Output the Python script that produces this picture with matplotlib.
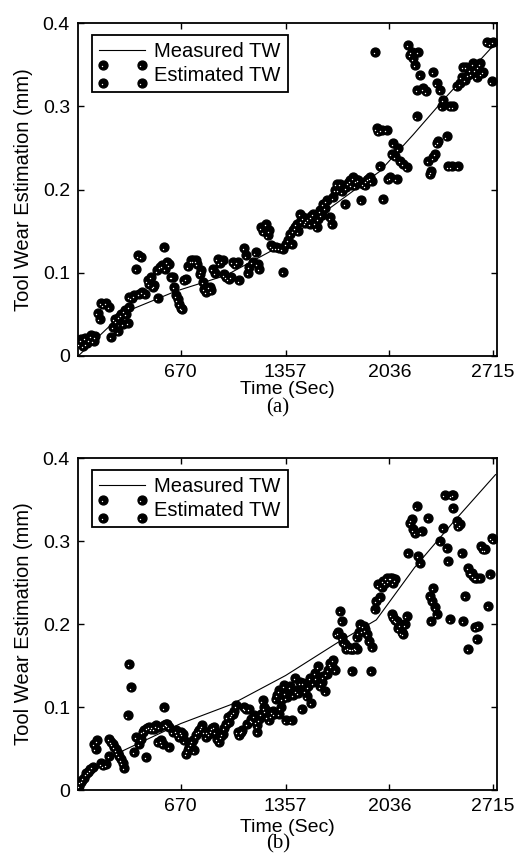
import numpy as np
import matplotlib
matplotlib.use("Agg")
import matplotlib.pyplot as plt
from matplotlib.lines import Line2D
from matplotlib.legend_handler import HandlerBase
from matplotlib.transforms import offset_copy

# ---- data ----
tick_pos = [670, 1357, 2036, 2715]
tick_lbl = ["670", "1357", "2036", "2715"]
ytick_pos = [0, 0.1, 0.2, 0.3, 0.4]
ytick_lbl = ["0", "0.1", "0.2", "0.3", "0.4"]

# (a) measured tool wear
meas_a_t = [0, 200, 335, 640, 967, 1300, 1537, 1973, 2191, 2409, 2730]
meas_a_w = [0, 0.035, 0.055, 0.078, 0.097, 0.13, 0.163, 0.222, 0.266, 0.312, 0.376]

# (a) estimated tool wear
est_a_t = [10, 20, 30, 45, 55, 70, 85, 100, 112,
           128, 140, 150, 165, 182, 202,
           215, 227, 238, 248, 260, 270, 282, 292, 303, 313, 325, 335,
           333, 350, 365, 380, 390, 398, 412, 420, 440,
           454, 465, 475, 490, 497, 518, 519, 534, 551, 561, 567, 584, 595,
           610, 617, 627, 640, 650, 660, 672, 682,
           690, 704, 720, 737, 752, 770, 780,
           796, 803, 815, 825, 837, 859, 870,
           879, 895, 912, 925, 945, 955, 967, 985, 1000, 1010, 1025, 1043, 1054,
           1086, 1097, 1110, 1119, 1141, 1160, 1174, 1185,
           1196, 1212, 1229, 1240, 1251, 1260, 1275, 1294, 1315, 1338, 1341,
           1360, 1375, 1385, 1400, 1406, 1420, 1428, 1440, 1450, 1460, 1472, 1485,
           1494, 1505, 1515, 1526, 1537, 1548, 1559, 1570, 1581, 1592, 1603, 1614,
           1625, 1646, 1657,
           1668, 1680, 1690, 1700, 1712, 1725, 1744, 1755, 1766, 1777, 1788, 1799,
           1810, 1821, 1832, 1853, 1864, 1875, 1886, 1897, 1908, 1920,
           1941, 1952, 1962, 1973, 1984, 1995, 2017, 2028, 2039, 2050, 2061, 2072,
           2083, 2094, 2105, 2126, 2148,
           2159, 2170, 2181, 2192, 2203, 2213, 2218, 2224, 2235, 2257, 2276,
           2290, 2301, 2311, 2322, 2333, 2344, 2355, 2322, 2344, 2366, 2377, 2388,
           2410, 2420, 2442, 2486, 2431, 2453, 2475, 2497,
           2508, 2518, 2530, 2540, 2551, 2562, 2573, 2584, 2595, 2606, 2617, 2628,
           2640, 2650, 2672, 2693, 2704, 2715]
est_a_w = [0.015, 0.02, 0.012, 0.022, 0.015, 0.02, 0.025, 0.018, 0.024,
           0.052, 0.045, 0.064, 0.062, 0.064, 0.059,
           0.023, 0.035, 0.045, 0.043, 0.03, 0.047, 0.05, 0.039, 0.055, 0.051, 0.04, 0.059,
           0.071, 0.07, 0.073, 0.105, 0.121, 0.075, 0.119, 0.077, 0.075,
           0.091, 0.087, 0.095, 0.083, 0.085, 0.103, 0.07, 0.107, 0.109, 0.131, 0.105, 0.113, 0.11,
           0.095, 0.095, 0.083, 0.073, 0.068, 0.063, 0.058, 0.057,
           0.091, 0.093, 0.108, 0.115, 0.115, 0.115, 0.111,
           0.099, 0.103, 0.089, 0.081, 0.077, 0.083, 0.079,
           0.105, 0.1, 0.117, 0.112, 0.115, 0.098, 0.095, 0.093, 0.095, 0.113, 0.11, 0.113, 0.091,
           0.13, 0.121, 0.1, 0.107, 0.113, 0.125, 0.111, 0.105,
           0.155, 0.15, 0.159, 0.145, 0.151, 0.133, 0.131, 0.131, 0.13, 0.129, 0.101,
           0.135, 0.14, 0.147, 0.135, 0.151, 0.155, 0.159, 0.15, 0.171, 0.163, 0.167, 0.16,
           0.163, 0.165, 0.159, 0.168, 0.171, 0.16, 0.155, 0.165, 0.175, 0.17, 0.183, 0.178,
           0.187, 0.167, 0.159,
           0.191, 0.2, 0.207, 0.2, 0.207, 0.198, 0.183, 0.203, 0.208, 0.211, 0.206, 0.215,
           0.205, 0.211, 0.212, 0.187, 0.207, 0.205, 0.211, 0.213, 0.215, 0.21,
           0.366, 0.274, 0.27, 0.229, 0.272, 0.189, 0.272, 0.213, 0.215, 0.243, 0.256, 0.24,
           0.213, 0.25, 0.235, 0.231, 0.227,
           0.374, 0.362, 0.366, 0.358, 0.35, 0.288, 0.32, 0.366, 0.338, 0.322, 0.318,
           0.235, 0.219, 0.222, 0.239, 0.243, 0.256, 0.258, 0.342, 0.328, 0.32, 0.3, 0.308,
           0.264, 0.228, 0.228, 0.228, 0.3, 0.3, 0.324, 0.328,
           0.336, 0.348, 0.332, 0.348, 0.338, 0.344, 0.34, 0.352, 0.344, 0.336, 0.348, 0.352,
           0.34, 0.342, 0.378, 0.376, 0.33, 0.378]

# (b) measured tool wear
meas_b_t = [0, 150, 300, 670, 1000, 1357, 1700, 1950, 2200, 2450, 2730]
meas_b_w = [0, 0.03, 0.048, 0.08, 0.103, 0.138, 0.178, 0.205, 0.268, 0.322, 0.38]

# (b) estimated tool wear
est_b_t = [5, 15, 25, 35, 50, 65, 80, 95,
           105, 126, 115, 148, 165, 181, 203,
           203, 215, 225, 236, 247, 258, 268, 280, 290, 301,
           334, 344, 323,
           366, 377, 399, 410, 421, 432, 443, 453, 464, 475, 486, 497, 508, 519, 530,
           541, 552, 563, 563, 574, 584, 595, 595,
           617, 639, 650, 661, 672, 683, 694, 704, 715, 726, 737, 748, 759, 770, 781,
           792, 803, 813, 824, 835, 846, 857, 868, 878, 889, 900, 911, 922, 933, 944,
           955, 966, 977, 988, 999, 1010, 1020, 1031, 1042, 1053, 1064, 1074, 1085,
           1096, 1107, 1118, 1129, 1140, 1151, 1162, 1172, 1172, 1185, 1195,
           1206, 1217, 1227, 1238, 1249, 1260, 1271, 1281, 1292, 1303, 1314, 1314,
           1325, 1336, 1347, 1357, 1357,
           1363, 1385, 1396, 1407, 1418, 1429, 1440, 1450, 1461, 1472, 1483, 1494,
           1505, 1515, 1526, 1537, 1548, 1559, 1570, 1581, 1592, 1603, 1614, 1625,
           1635, 1646, 1657, 1668, 1679,
           1690, 1701, 1712, 1723, 1723, 1734, 1745, 1755, 1766, 1777, 1788, 1788,
           1800, 1810, 1821, 1821, 1835, 1846, 1857, 1868, 1879, 1890, 1901, 1915, 1923,
           1940, 1951, 1962, 1973, 1984, 1995, 2006, 2017, 2028, 2039, 2050, 2061, 2072,
           2050, 2061, 2072, 2083, 2094, 2104, 2115, 2126, 2137, 2148,
           2159, 2170, 2181, 2192, 2203, 2213, 2224, 2235, 2246, 2289,
           2300, 2311, 2316, 2322, 2333, 2344,
           2366, 2388, 2398, 2410, 2420, 2431, 2442, 2453, 2453, 2475, 2486, 2497,
           2508, 2519, 2530, 2551, 2562, 2573, 2584, 2595, 2606, 2628, 2551, 2595,
           2606, 2617, 2638, 2649, 2660, 2682, 2693, 2704, 2715]
est_b_w = [0.005, 0.01, 0.012, 0.015, 0.02, 0.022, 0.025, 0.028,
           0.056, 0.06, 0.05, 0.032, 0.03, 0.031, 0.041,
           0.062, 0.058, 0.056, 0.052, 0.049, 0.045, 0.041, 0.037, 0.033, 0.027,
           0.152, 0.124, 0.09,
           0.046, 0.064, 0.056, 0.062, 0.07, 0.072, 0.04, 0.075, 0.076, 0.074, 0.076, 0.074, 0.078, 0.058, 0.076,
           0.06, 0.056, 0.1, 0.078, 0.08, 0.079, 0.052, 0.076,
           0.07, 0.072, 0.068, 0.064, 0.07, 0.068, 0.06, 0.044, 0.048, 0.052, 0.056, 0.06, 0.048, 0.066, 0.07,
           0.072, 0.075, 0.078, 0.07, 0.064, 0.07, 0.068, 0.072, 0.075, 0.076, 0.07, 0.062, 0.058, 0.065, 0.068,
           0.075, 0.08, 0.088, 0.082, 0.09, 0.092, 0.095, 0.102, 0.07, 0.066, 0.07, 0.072, 0.1,
           0.098, 0.08, 0.098, 0.085, 0.084, 0.09, 0.082, 0.078, 0.07, 0.085, 0.092,
           0.108, 0.1, 0.096, 0.088, 0.084, 0.09, 0.095, 0.092, 0.11, 0.115, 0.12, 0.092,
           0.1, 0.11, 0.126, 0.118, 0.084,
           0.112, 0.125, 0.084, 0.115, 0.135, 0.12, 0.117, 0.13, 0.098, 0.129, 0.12, 0.113,
           0.125, 0.135, 0.105, 0.13, 0.141, 0.135, 0.149, 0.125, 0.13, 0.137, 0.119, 0.14,
           0.145, 0.153, 0.15, 0.157, 0.145,
           0.188, 0.19, 0.216, 0.204, 0.184, 0.178, 0.176, 0.17, 0.172, 0.17, 0.17, 0.144,
           0.17, 0.172, 0.17, 0.184, 0.19, 0.2, 0.192, 0.198, 0.194, 0.188, 0.18, 0.144, 0.172,
           0.218, 0.228, 0.248, 0.232, 0.245, 0.252, 0.25, 0.256, 0.252, 0.256, 0.256, 0.25, 0.254,
           0.212, 0.208, 0.205, 0.204, 0.195, 0.2, 0.19, 0.188, 0.2, 0.21,
           0.286, 0.322, 0.326, 0.314, 0.31, 0.342, 0.282, 0.274, 0.312, 0.328,
           0.234, 0.204, 0.228, 0.244, 0.22, 0.212,
           0.3, 0.316, 0.356, 0.292, 0.276, 0.206, 0.355, 0.356, 0.34, 0.324, 0.318, 0.32,
           0.286, 0.204, 0.234, 0.268, 0.262, 0.262, 0.258, 0.256, 0.256, 0.256, 0.17, 0.196,
           0.182, 0.198, 0.294, 0.29, 0.29, 0.222, 0.26, 0.304, 0.302]


class FourDots(HandlerBase):
    # matlab style scatter legend entry: 2 x 2 dots
    def create_artists(self, legend, orig_handle, xdescent, ydescent,
                       width, height, fontsize, trans):
        cy = -ydescent + height / 2
        arts = []
        for fx in (0.09, 0.92):
            for dy in (6.5, -6.5):
                x = -xdescent + fx * width
                d = Line2D([x], [cy + dy], ls="none", marker="o", ms=6.4,
                           mfc="black", mec="black", transform=trans)
                h = Line2D([x - 0.9], [cy + dy - 1.0], ls="none", marker="o",
                           ms=1.0, mfc="white", mec="none", transform=trans)
                arts += [d, h]
        return arts


sans = "Liberation Sans"
fig = plt.figure(figsize=(5.18, 8.59), dpi=100)
ax_a = fig.add_axes([0.151, 0.5856, 0.808, 0.3873])
ax_b = fig.add_axes([0.151, 0.0803, 0.808, 0.3865])

panels = [
    (ax_a, meas_a_t, meas_a_w, est_a_t, est_a_w, -0.101, "(a)", 0.525),
    (ax_b, meas_b_t, meas_b_w, est_b_t, est_b_w, -0.112, "(b)", 0.0175),
]

for ax, mt, mw, et, ew, xlab_y, tag, tag_y in panels:
    ax.plot(mt, mw, color="black", lw=0.8, zorder=2, label="Measured TW")
    ax.plot(et, ew, ls="none", marker="o", ms=6.4, mfc="black", mec="black",
            zorder=3)
    hl = offset_copy(ax.transData, fig=fig, x=-1.3, y=-1.5, units="dots")
    ax.plot(et, ew, ls="none", marker="o", ms=1.0, mfc="white", mec="none",
            transform=hl, zorder=4)

    ax.set_xlim(0, 2738)
    ax.set_ylim(0, 0.4)
    ax.set_xticks(tick_pos)
    ax.set_xticklabels(tick_lbl)
    ax.set_yticks(ytick_pos)
    ax.set_yticklabels(ytick_lbl)
    ax.tick_params(direction="in", top=True, right=True, length=4, width=1,
                   labelsize=14, pad=6)
    for lab in ax.get_xticklabels() + ax.get_yticklabels():
        lab.set_fontfamily(sans)
    for sp in ax.spines.values():
        sp.set_linewidth(1.3)

    ax.set_xlabel("Time (Sec)", fontsize=14, family=sans, va="center")
    ax.xaxis.set_label_coords(0.5, xlab_y)
    ax.set_ylabel("Tool Wear Estimation (mm)", fontsize=14.5, family=sans)
    ax.yaxis.set_label_coords(-0.108, 0.5)

    dots = Line2D([], [], ls="none")
    leg = ax.legend([ax.lines[0], dots], ["Measured TW", "Estimated TW"],
                    handler_map={dots: FourDots()},
                    loc="upper left", bbox_to_anchor=(0.033, 0.965),
                    borderaxespad=0, borderpad=0.35, handlelength=2.3,
                    handletextpad=0.45, labelspacing=0.25,
                    prop={"family": sans, "size": 14.5}, fancybox=False,
                    framealpha=1, edgecolor="black")
    leg.get_frame().set_linewidth(1.3)

    fig.text(0.537, tag_y, tag, ha="center", va="center",
             family="Liberation Serif", fontsize=15)

fig.savefig("out.png", dpi=100)
